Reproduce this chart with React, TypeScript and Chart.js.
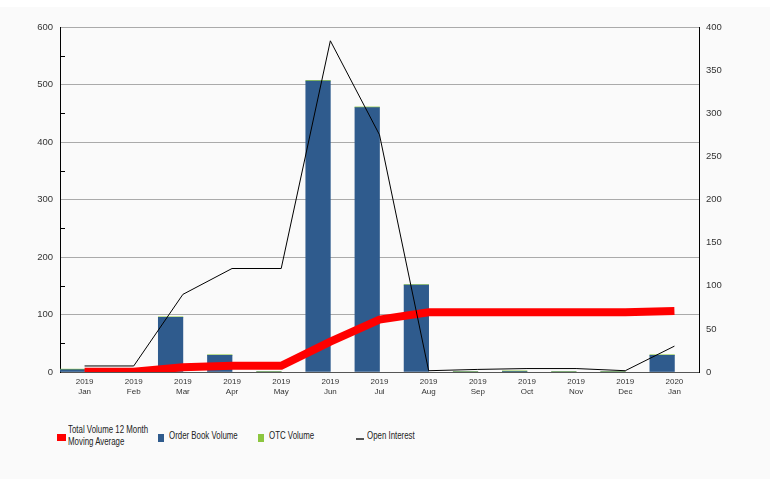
import React, { useEffect, useRef } from 'react';
import { Chart, registerables } from 'chart.js';

Chart.register(...registerables);

const categories: string[][] = [
  ['2019', 'Jan'], ['2019', 'Feb'], ['2019', 'Mar'], ['2019', 'Apr'], ['2019', 'May'],
  ['2019', 'Jun'], ['2019', 'Jul'], ['2019', 'Aug'], ['2019', 'Sep'], ['2019', 'Oct'],
  ['2019', 'Nov'], ['2019', 'Dec'], ['2020', 'Jan'],
];
const orderBookVolume = [4, 0, 95, 29, 0, 506, 460, 151, 0, 1, 0, 0, 29];
const otcVolume = [1, 1, 1, 1, 1, 1, 1, 1, 1, 1, 1, 1, 1];
const movingAverage = [0.3, 0.3, 8.3, 10.7, 10.7, 52.8, 91.2, 103.8, 103.8, 103.9, 103.9, 103.9, 106.3];
const openInterest = [7, 7, 90, 120, 120, 384, 275, 1.5, 3, 4, 4, 1.5, 30];
const leftMinorTicks = [50, 150, 250, 350, 450, 550];

const RED = '#ff0000';
const BLUE = '#2f5b8d';
const GREEN = '#8cc63f';
const TEXT = '#333333';
const FONT = "'Liberation Sans', Arial, sans-serif";

const minorTickPlugin = {
  id: 'minorTicks',
  afterDraw(chart: any) {
    const y = chart.scales.y;
    const left = chart.chartArea.left;
    const ctx = chart.ctx;
    ctx.save();
    ctx.strokeStyle = '#000';
    ctx.lineWidth = 1;
    leftMinorTicks.forEach((v) => {
      const py = Math.round(y.getPixelForValue(v)) + 0.5;
      ctx.beginPath();
      ctx.moveTo(left, py);
      ctx.lineTo(left + 5, py);
      ctx.stroke();
    });
    ctx.restore();
  },
};

function ChartCanvas() {
  const ref = useRef<HTMLCanvasElement | null>(null);
  useEffect(() => {
    if (!ref.current) return;
    const chart = new Chart(ref.current, {
      type: 'bar',
      data: {
        labels: categories,
        datasets: [
          {
            type: 'line',
            label: 'Total Volume 12 Month Moving Average',
            data: movingAverage,
            borderColor: RED,
            backgroundColor: RED,
            borderWidth: 8,
            pointRadius: 0,
            tension: 0,
            yAxisID: 'y',
            stack: 'ma',
            order: 2,
            borderCapStyle: 'butt',
          } as any,
          {
            type: 'bar',
            label: 'Order Book Volume',
            data: orderBookVolume,
            backgroundColor: BLUE,
            stack: 'vol',
            yAxisID: 'y',
            order: 3,
          },
          {
            type: 'bar',
            label: 'OTC Volume',
            data: otcVolume,
            backgroundColor: GREEN,
            stack: 'vol',
            yAxisID: 'y',
            order: 3,
          },
          {
            type: 'bar',
            label: 'spacer',
            data: categories.map(() => 0),
            backgroundColor: 'rgba(0,0,0,0)',
            stack: 'spacer',
            yAxisID: 'y',
            order: 3,
          },
          {
            type: 'line',
            label: 'Open Interest',
            data: openInterest,
            borderColor: '#000',
            backgroundColor: '#000',
            borderWidth: 1,
            pointRadius: 0,
            tension: 0,
            yAxisID: 'y1',
            order: 1,
          } as any,
        ],
      },
      options: {
        animation: false,
        responsive: false,
        maintainAspectRatio: false,
        layout: { padding: { left: 0, right: 0, top: 27, bottom: 0 } },
        datasets: { bar: { barPercentage: 1, categoryPercentage: 1 } },
        plugins: {
          legend: { display: false },
          tooltip: { enabled: false },
        },
        scales: {
          x: {
            offset: true,
            grid: { display: false, drawTicks: false },
            border: { display: true, color: '#555', width: 1 },
            ticks: {
              color: TEXT,
              font: { family: FONT, size: 8, lineHeight: 1.25 },
              padding: 5,
              maxRotation: 0,
              autoSkip: false,
            },
            afterFit: (s: any) => { s.height = 28; },
          },
          y: {
            position: 'left',
            stacked: true,
            min: 0,
            max: 600,
            ticks: {
              stepSize: 100,
              color: TEXT,
              font: { family: FONT, size: 9.5 },
              padding: 7,
            },
            grid: { color: '#aaaaaa', lineWidth: 1, drawTicks: false },
            border: { display: true, color: '#000', width: 1 },
            afterFit: (s: any) => { s.width = 60; },
          },
          y1: {
            position: 'right',
            min: 0,
            max: 400,
            ticks: {
              stepSize: 50,
              color: TEXT,
              font: { family: FONT, size: 9.5 },
              padding: 7,
            },
            grid: { drawOnChartArea: false, drawTicks: false },
            border: { display: true, color: '#000', width: 1 },
            afterFit: (s: any) => { s.width = 71; },
          },
        },
      },
      plugins: [minorTickPlugin],
    } as any);
    return () => chart.destroy();
  }, []);
  return <canvas ref={ref} width={770} height={400} style={{ position: 'absolute', left: 0, top: 0, width: 770, height: 400 }} />;
}

const legendItems = [
  { label: ['Total Volume 12 Month', 'Moving Average'], left: 57, kind: 'rect', color: RED, w: 9, h: 7, top: 434 },
  { label: ['Order Book Volume'], left: 158, kind: 'rect', color: BLUE, w: 6, h: 8, top: 433.5 },
  { label: ['OTC Volume'], left: 258, kind: 'rect', color: GREEN, w: 6, h: 8, top: 433.5 },
  { label: ['Open Interest'], left: 356, kind: 'line', color: '#555', w: 8, h: 1.5, top: 438 },
];

export default function App() {
  return (
    <div style={{ position: 'absolute', left: 0, top: 0, width: 771, height: 479, background: '#ffffff', overflow: 'hidden' }}>
      <div style={{ position: 'absolute', left: 0, top: 7, width: 770, height: 472, background: '#fafafa' }} />
      <ChartCanvas />
      {legendItems.map((it, i) => (
        <React.Fragment key={i}>
          <div style={{ position: 'absolute', left: it.left, top: it.top, width: it.w, height: it.h, background: it.color }} />
          <div
            style={{
              position: 'absolute',
              left: it.left + 11,
              top: it.label.length > 1 ? 422.7 : 429.4,
              fontFamily: FONT,
              fontSize: 10.5,
              lineHeight: '12.7px',
              color: '#222',
              whiteSpace: 'nowrap',
              transform: 'scaleX(0.75)',
              transformOrigin: 'left top',
            }}
          >
            {it.label.map((l, j) => (
              <div key={j}>{l}</div>
            ))}
          </div>
        </React.Fragment>
      ))}
    </div>
  );
}
